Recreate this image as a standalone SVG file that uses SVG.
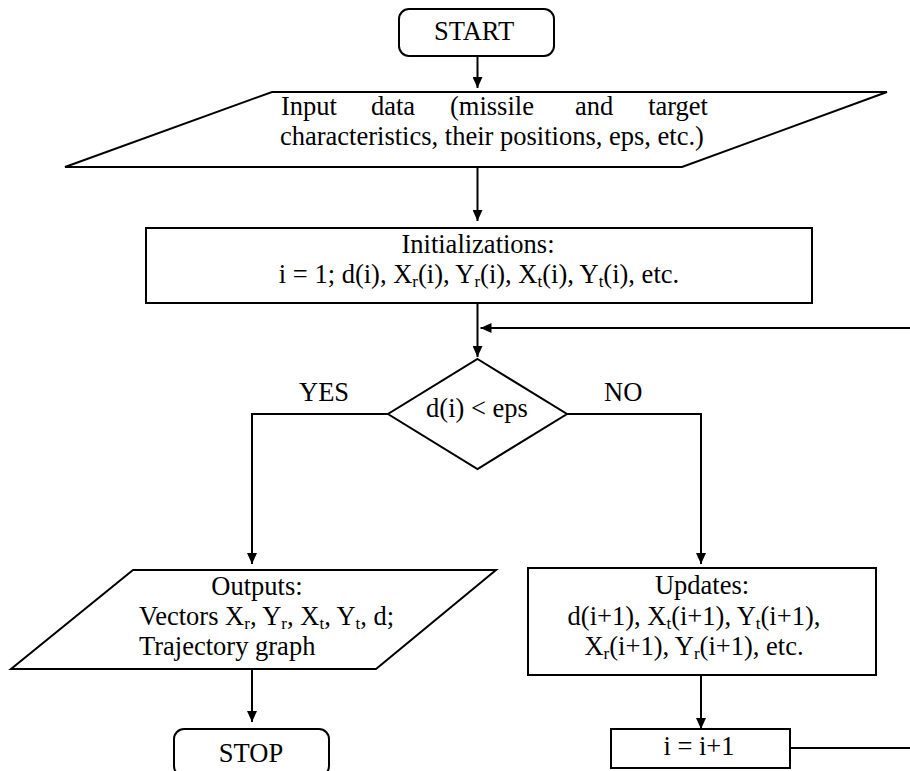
<svg xmlns="http://www.w3.org/2000/svg" width="910" height="771" viewBox="0 0 910 771">
<style>
  .shape { fill: #ffffff; stroke: #000000; stroke-width: 2; }
  .conn { fill: none; stroke: #000000; stroke-width: 2; }
  text { font-family: "Liberation Serif", "Times New Roman", serif; font-size: 26.5px; fill: #000000; }
  .s { font-size: 17px; }
  .mid { text-anchor: middle; }
</style>
<defs>
  <marker id="arrow" markerUnits="userSpaceOnUse" markerWidth="11" markerHeight="10" refX="11" refY="5" orient="auto">
    <path d="M0,0 L11,5 L0,10 z" fill="#000000"/>
  </marker>
</defs>
<rect width="910" height="771" fill="#ffffff"/>

<g id="start">
  <rect class="shape" x="399" y="9" width="155" height="47" rx="10" ry="10"/>
  <text class="mid" x="474" y="40">START</text>
</g>

<g id="input">
  <polygon class="shape" points="272,92 887,92 682,167 65,167"/>
  <text y="115"><tspan x="281">Input</tspan><tspan x="371">data</tspan><tspan x="450">(missile</tspan><tspan x="575">and</tspan><tspan x="708" text-anchor="end">target</tspan></text>
  <text x="280" y="145">characteristics, their positions, eps, etc.)</text>
</g>

<g id="init">
  <rect class="shape" x="146" y="228" width="666" height="75"/>
  <text class="mid" x="478" y="253">Initializations:</text>
  <text class="mid" x="479" y="283">i = 1; d(i), X<tspan class="s" dy="4">r</tspan><tspan dy="-4">(i), Y</tspan><tspan class="s" dy="4">r</tspan><tspan dy="-4">(i), X</tspan><tspan class="s" dy="4">t</tspan><tspan dy="-4">(i), Y</tspan><tspan class="s" dy="4">t</tspan><tspan dy="-4">(i), etc.</tspan></text>
</g>

<g id="decision">
  <polygon class="shape" points="477.5,359 567,414 477.5,469 388,414"/>
  <text class="mid" x="477" y="417">d(i) &lt; eps</text>
</g>

<g id="outputs">
  <polygon class="shape" points="133,570 496,570 376,669 11,669"/>
  <text class="mid" x="257" y="595">Outputs:</text>
  <text x="139" y="625">Vectors X<tspan class="s" dy="4">r</tspan><tspan dy="-4">, Y</tspan><tspan class="s" dy="4">r</tspan><tspan dy="-4">, X</tspan><tspan class="s" dy="4">t</tspan><tspan dy="-4">, Y</tspan><tspan class="s" dy="4">t</tspan><tspan dy="-4">, d;</tspan></text>
  <text x="139" y="655">Trajectory graph</text>
</g>

<g id="updates">
  <rect class="shape" x="528" y="568" width="348" height="107"/>
  <text class="mid" x="702" y="594">Updates:</text>
  <text class="mid" x="694" y="625">d(i+1), X<tspan class="s" dy="4">t</tspan><tspan dy="-4">(i+1), Y</tspan><tspan class="s" dy="4">t</tspan><tspan dy="-4">(i+1),</tspan></text>
  <text class="mid" x="694" y="655">X<tspan class="s" dy="4">r</tspan><tspan dy="-4">(i+1), Y</tspan><tspan class="s" dy="4">r</tspan><tspan dy="-4">(i+1), etc.</tspan></text>
</g>

<g id="stop">
  <rect class="shape" x="174" y="729" width="155" height="47" rx="10" ry="10"/>
  <text class="mid" x="251" y="762">STOP</text>
</g>

<g id="increment">
  <rect class="shape" x="611" y="729" width="179" height="39"/>
  <text class="mid" x="699" y="755">i = i+1</text>
</g>

<g id="connectors">
  <path class="conn" d="M477.5,56 V88" marker-end="url(#arrow)"/>
  <path class="conn" d="M477.5,167 V221" marker-end="url(#arrow)"/>
  <path class="conn" d="M477.5,303 V357" marker-end="url(#arrow)"/>
  <path class="conn" d="M388,414 H252 V564" marker-end="url(#arrow)"/>
  <path class="conn" d="M567,414 H701 V564" marker-end="url(#arrow)"/>
  <path class="conn" d="M252,669 V722" marker-end="url(#arrow)"/>
  <path class="conn" d="M701,675 V729" marker-end="url(#arrow)"/>
  <path class="conn" d="M790,748 H920 V328 H480.5" marker-end="url(#arrow)"/>
  <text x="299" y="401">YES</text>
  <text x="604" y="401">NO</text>
</g>
</svg>
